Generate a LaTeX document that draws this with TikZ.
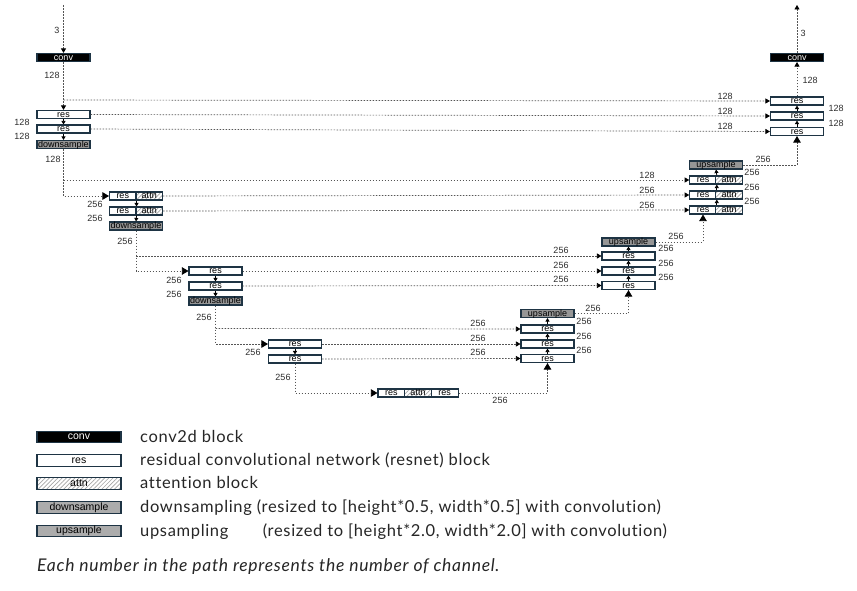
\documentclass[tikz,border=0pt]{standalone}
\usepackage{fontspec}
\setmainfont{Liberation Sans}
\newfontfamily\legfont[LetterSpace=4,Ligatures=NoCommon]{Lato}
\usetikzlibrary{arrows.meta,patterns.meta}
\definecolor{bordc}{RGB}{30,52,68}
\definecolor{lblc}{RGB}{45,45,45}
\definecolor{grayfill}{RGB}{150,150,150}
\definecolor{dashc}{RGB}{85,85,85}
\newlength\dw
\begin{document}
\begin{tikzpicture}[x=1pt,y=-1pt,
  blk/.style={draw=bordc,line width=1.1pt,minimum height=8pt,inner sep=0pt,
    font=\fontsize{9}{9}\selectfont,text height=6.4pt,text depth=0.5pt},
  convb/.style={blk,minimum width=53pt,fill=black,text=white},
  resb/.style={blk,minimum width=53pt,fill=white},
  downb/.style={blk,minimum width=53pt,fill=grayfill},
  resh/.style={blk,minimum width=26.5pt,fill=white},
  attnh/.style={blk,minimum width=26.5pt,preaction={fill=white},
    pattern={Lines[angle=45,distance=3pt,line width=0.7pt]},pattern color=gray!70},
  lbl/.style={font=\fontsize{9}{9}\selectfont,text=lblc,inner sep=0pt},
  dl/.style={draw=dashc,line width=0.7pt,dash pattern=on 1.6pt off 1.4pt},
  sa/.style={-{Triangle[length=4.5pt,width=5pt,color=black]}},
  ba/.style={-{Triangle[length=6.5pt,width=7.5pt,color=black]}},
  va/.style={draw=black,line width=0.8pt,-{Triangle[length=3.5pt,width=4pt]}},
  legtxt/.style={font=\legfont\fontsize{16.5}{16.5}\selectfont,anchor=base west,inner sep=0pt,text=black!85},
  legbox/.style={minimum width=84pt,minimum height=11.5pt,font=\fontsize{10.5}{10.5}\selectfont,text height=7.3pt,text depth=1.6pt}
]
\useasboundingbox (0,0) rectangle (857,591);
\fill[white] (0,0) rectangle (857,591);

% ---------- level 1 ----------
\node[convb] (cL) at (63.5,57.5) {conv};
\node[resb] (r1L) at (63.5,114.5) {res};
\node[resb] (r2L) at (63.5,129) {res};
\node[downb] (dL1) at (63.5,144.5) {downsample};

\node[convb] (cR) at (797,57.5) {conv};
\node[resb] (r1R) at (797,101) {res};
\node[resb] (r2R) at (797,116) {res};
\node[resb] (r3R) at (797,131.5) {res};

% ---------- level 2 ----------
\node[resh] (a1Lr) at (122.75,196) {res};
\node[attnh] (a1La) at (149.25,196) {attn};
\node[resh] (a2Lr) at (122.75,211) {res};
\node[attnh] (a2La) at (149.25,211) {attn};
\node[downb] (dL2) at (136,226) {downsample};

\node[downb] (uR2) at (716,165) {upsample};
\node[resh] (a1Rr) at (703,180) {res};
\node[attnh] (a1Ra) at (729,180) {attn};
\node[resh] (a2Rr) at (703,195) {res};
\node[attnh] (a2Ra) at (729,195) {attn};
\node[resh] (a3Rr) at (703,210) {res};
\node[attnh] (a3Ra) at (729,210) {attn};

% ---------- level 3 ----------
\node[resb] (r1L3) at (215.5,271) {res};
\node[resb] (r2L3) at (215.5,286) {res};
\node[downb] (dL3) at (215.5,301) {downsample};

\node[downb] (uR3) at (628.5,242) {upsample};
\node[resb] (r1R3) at (628.5,256) {res};
\node[resb] (r2R3) at (628.5,271) {res};
\node[resb] (r3R3) at (628.5,285.5) {res};

% ---------- level 4 ----------
\node[resb] (r1L4) at (295,344) {res};
\node[resb] (r2L4) at (295,359) {res};

\node[downb] (uR4) at (547.5,313.5) {upsample};
\node[resb] (r1R4) at (547.5,329) {res};
\node[resb] (r2R4) at (547.5,344) {res};
\node[resb] (r3R4) at (547.5,358.5) {res};

% ---------- bottom ----------
\node[resh,minimum width=26.7pt] (bm1) at (391.3,393) {res};
\node[attnh,minimum width=26.7pt] (bm2) at (418,393) {attn};
\node[resh,minimum width=26.7pt] (bm3) at (444.7,393) {res};

% ---------- connectors level 1 ----------
\coordinate (inTop) at (63.5,5);
\coordinate (outTop) at (797,5);
\coordinate (b1) at (63.5,100);
\draw[dl,sa] (inTop) -- (cL.north);
\draw[dl,sa] (cL.south) -- (r1L.north);
\draw[va] (r1L.south) -- (r2L.north);
\draw[va] (r2L.south) -- (dL1.north);
\draw[dl,sa] (b1) -- (r1R.west);
\draw[dl,sa] (r1L.east) -- (r2R.west);
\draw[dl,sa] (r2L.east) -- (r3R.west);
\draw[dl,sa] (cR.north) -- (outTop);
\draw[dl,sa] (r1R.north) -- (cR.south);
\draw[va] (r2R.north) -- (r1R.south);
\draw[va] (r3R.north) -- (r2R.south);
\draw[dl,ba] (uR2.east) -| (r3R.south);

% ---------- connectors level 2 ----------
\coordinate (b2) at (63.5,180);
\draw[dl,ba] (dL1.south) |- (a1Lr.west);
\draw[dl,sa] (b2) -- (a1Rr.west);
\draw[va] (a1Lr.south east) -- (a2Lr.north east);
\draw[va] (a2Lr.south east) -- (dL2.north);
\draw[dl,sa] (a1La.east) -- (a2Rr.west);
\draw[dl,sa] (a2La.east) -- (a3Rr.west);
\draw[va] (a1Rr.north east) -- (uR2.south);
\draw[va] (a2Rr.north east) -- (a1Rr.south east);
\draw[va] (a3Rr.north east) -- (a2Rr.south east);
\draw[dl,ba] (uR3.east) -| (a3Rr.south);

% ---------- connectors level 3 ----------
\coordinate (b3) at (136,256);
\draw[dl,ba] (dL2.south) |- (r1L3.west);
\draw[dl,sa] (b3) -- (r1R3.west);
\draw[va] (r1L3.south) -- (r2L3.north);
\draw[va] (r2L3.south) -- (dL3.north);
\draw[dl,sa] (r1L3.east) -- (r2R3.west);
\draw[dl,sa] (r2L3.east) -- (r3R3.west);
\draw[va] (r1R3.north) -- (uR3.south);
\draw[va] (r2R3.north) -- (r1R3.south);
\draw[va] (r3R3.north) -- (r2R3.south);
\draw[dl,ba] (uR4.east) -| (r3R3.south);

% ---------- connectors level 4 ----------
\coordinate (b4) at (215.5,328.5);
\draw[dl,ba] (dL3.south) |- (r1L4.west);
\draw[dl,sa] (b4) -- (r1R4.west);
\draw[va] (r1L4.south) -- (r2L4.north);
\draw[dl,sa] (r1L4.east) -- (r2R4.west);
\draw[dl,sa] (r2L4.east) -- (r3R4.west);
\draw[va] (r1R4.north) -- (uR4.south);
\draw[va] (r2R4.north) -- (r1R4.south);
\draw[va] (r3R4.north) -- (r2R4.south);
\draw[dl,ba] (r2L4.south) |- (bm1.west);
\draw[dl,ba] (bm3.east) -| (r3R4.south);

% ---------- labels ----------
\node[lbl] at (57,30) {3};
\node[lbl] at (52,75) {128};
\node[lbl] at (22,122) {128};
\node[lbl] at (22,136) {128};
\node[lbl] at (53,159) {128};
\node[lbl] at (803,33) {3};
\node[lbl] at (810,80) {128};
\node[lbl] at (836,108) {128};
\node[lbl] at (836,123) {128};
\node[lbl] at (725,96) {128};
\node[lbl] at (725,111) {128};
\node[lbl] at (725,126) {128};
\node[lbl] at (763,159) {256};

\node[lbl] at (95,204) {256};
\node[lbl] at (95,218) {256};
\node[lbl] at (125,241) {256};
\node[lbl] at (647,175) {128};
\node[lbl] at (647,190) {256};
\node[lbl] at (647,205) {256};
\node[lbl] at (752,172) {256};
\node[lbl] at (752,187) {256};
\node[lbl] at (752,201) {256};
\node[lbl] at (676,236) {256};

\node[lbl] at (174,280) {256};
\node[lbl] at (174,294) {256};
\node[lbl] at (204,317) {256};
\node[lbl] at (561,250) {256};
\node[lbl] at (561,265) {256};
\node[lbl] at (561,279) {256};
\node[lbl] at (666,248) {256};
\node[lbl] at (666,263) {256};
\node[lbl] at (666,277) {256};
\node[lbl] at (593,308) {256};

\node[lbl] at (253,352) {256};
\node[lbl] at (283,377) {256};
\node[lbl] at (478,323) {256};
\node[lbl] at (478,338) {256};
\node[lbl] at (478,352) {256};
\node[lbl] at (584,321) {256};
\node[lbl] at (584,336) {256};
\node[lbl] at (584,350) {256};
\node[lbl] at (500,400) {256};

% ---------- legend ----------
\node[convb,legbox] (lg1) at (79,437) {conv};
\node[resb,legbox] (lg2) at (79,460.5) {res};
\node[attnh,legbox] (lg3) at (79,483.5) {attn};
\node[downb,legbox,fill=gray!65] (lg4) at (79,507.5) {downsample};
\node[downb,legbox,fill=gray!65] (lg5) at (79,531) {upsample};

\node[legtxt] (lt1) at (140,442) {conv2d block};
\node[legtxt] (lt2) at (140,465.5) {residual convolutional network (resnet) block};
\node[legtxt] (lt3) at (140,488.5) {attention block};
\node[legtxt] (lt4) at (140,512.5) {downsampling (resized to [height*0.5, width*0.5] with convolution)};
\node[legtxt] (lt5) at (140,536) {\settowidth{\dw}{downsampling\ }\makebox[\dw][l]{upsampling}\hspace{6pt}(resized to [height*2.0, width*2.0] with convolution)};
\node[legtxt,font=\legfont\itshape\fontsize{17.5}{17.5}\selectfont] (lt6) at (37,571) {Each number in the path represents the number of channel.};
\end{tikzpicture}
\end{document}
